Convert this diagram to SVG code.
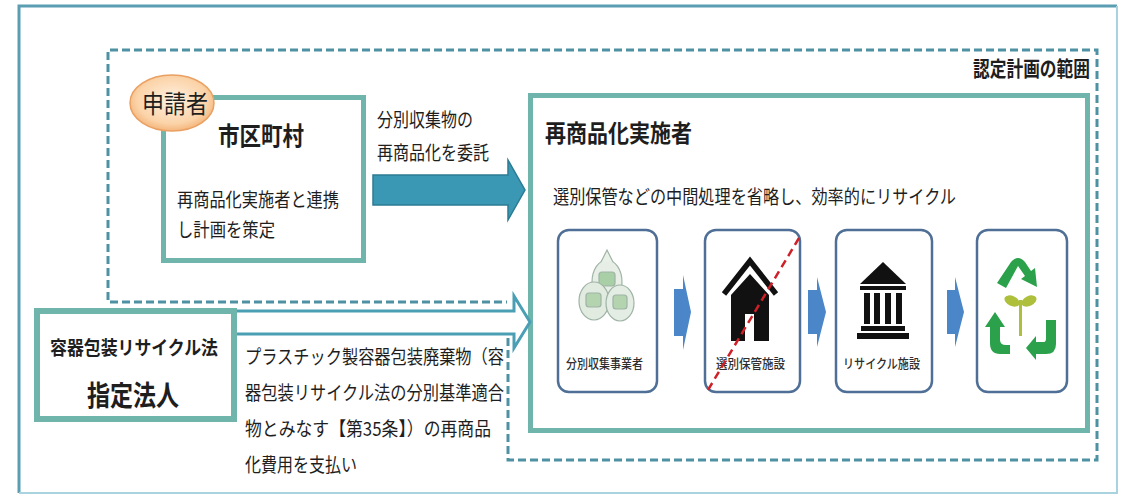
<svg xmlns="http://www.w3.org/2000/svg" width="1122" height="494" viewBox="0 0 1122 494">
  <defs>
    <style>
      .jp { font-family: "Noto Sans CJK JP", "Noto Sans CJK SC", sans-serif; fill: #1e1e1e; }
      .b { font-weight: bold; }
      .box { fill: #ffffff; stroke: #70b5ab; stroke-width: 5; }
      .step { fill: #ffffff; stroke: #4f6f96; stroke-width: 2.5; }
      .chev { fill: #4a86c8; }
      .small { font-family: "Noto Sans CJK JP", sans-serif; fill: #2e2e2e; font-size: 13px; font-weight: 500; }
    </style>
    <radialGradient id="badge" cx="50%" cy="45%" r="60%">
      <stop offset="0" stop-color="#fff1e2"/>
      <stop offset="0.7" stop-color="#fbd3a8"/>
      <stop offset="1" stop-color="#f2aa6a"/>
    </radialGradient>
  </defs>

  <rect width="1122" height="494" fill="#ffffff"/>

  <!-- outer frame -->
  <g id="frame">
    <path d="M1117 6 H19 V493" fill="none" stroke="#5b9db2" stroke-width="3"/>
    <path d="M1117 6 V493 H19" fill="none" stroke="#a8d3df" stroke-width="2"/>
  </g>

  <!-- scope of the approved plan -->
  <g id="scope">
    <path d="M508 338 V460 H1097 V50 H108 V302 H507" fill="none" stroke="#4e91a3" stroke-width="3" stroke-dasharray="8 4"/>
    <text class="jp b" x="973" y="76" font-size="21" textLength="117" lengthAdjust="spacingAndGlyphs">認定計画の範囲</text>
  </g>

  <!-- municipality (applicant) -->
  <g id="municipality">
    <rect class="box" x="163.5" y="97.5" width="200" height="163"/>
    <text class="jp b" x="218" y="145" font-size="25" textLength="86" lengthAdjust="spacingAndGlyphs">市区町村</text>
    <text class="jp" x="177" y="207" font-size="19" textLength="162" lengthAdjust="spacingAndGlyphs">再商品化実施者と連携</text>
    <text class="jp" x="177" y="237" font-size="19" textLength="98" lengthAdjust="spacingAndGlyphs">し計画を策定</text>
  </g>

  <g id="applicant">
    <ellipse cx="172" cy="103" rx="42" ry="28" fill="url(#badge)" stroke="#e9a062" stroke-width="1.5"/>
    <text class="jp" x="142" y="113" font-size="25" textLength="66" lengthAdjust="spacingAndGlyphs">申請者</text>
  </g>

  <!-- designated corporation -->
  <g id="designated">
    <rect x="37" y="311" width="197" height="108" fill="#ffffff" stroke="#70b5ab" stroke-width="6"/>
    <text class="jp b" x="50" y="355" font-size="19" textLength="168" lengthAdjust="spacingAndGlyphs">容器包装リサイクル法</text>
    <text class="jp b" x="87" y="406" font-size="28" textLength="92" lengthAdjust="spacingAndGlyphs">指定法人</text>
  </g>

  <!-- recycler -->
  <g id="recycler">
    <rect class="box" x="530.5" y="95.5" width="557" height="335"/>
    <text class="jp b" x="545" y="142" font-size="24" textLength="147" lengthAdjust="spacingAndGlyphs">再商品化実施者</text>
    <text class="jp" x="553" y="204" font-size="19" textLength="403" lengthAdjust="spacingAndGlyphs">選別保管などの中間処理を省略し、効率的にリサイクル</text>
  </g>

  <!-- step 1: separate collection -->
  <g id="step-collection">
    <rect class="step" x="558" y="230" width="99" height="162" rx="11"/>
    <g stroke="#9fb3a6" stroke-width="1.2">
      <ellipse cx="607" cy="282" rx="15" ry="22" fill="#e6eee6"/>
      <path d="M601 262 L607 250 L613 262" fill="#e9f0e8"/>
      <rect x="599" y="272" width="16" height="14" rx="3" fill="#a9cfa6"/>
      <ellipse cx="594" cy="301" rx="15" ry="19" fill="#e1ebe0"/>
      <rect x="586" y="293" width="15" height="14" rx="3" fill="#b3d4ae"/>
      <ellipse cx="620" cy="303" rx="14" ry="18" fill="#e4ede3"/>
      <rect x="613" y="295" width="14" height="14" rx="3" fill="#b3d4ae"/>
    </g>
    <text class="small" x="566" y="368" textLength="77" lengthAdjust="spacingAndGlyphs">分別収集事業者</text>
  </g>

  <!-- step 2: sorting storage (skipped) -->
  <g id="step-storage">
    <rect class="step" x="705" y="230" width="95" height="162" rx="11"/>
    <path d="M724 294 L750 261 L776 294" fill="none" stroke="#111" stroke-width="5.5"/>
    <path d="M731 295 L750 274 L769 295 V341 H754 V314 H745 V341 H731 Z" fill="#111"/>
    <text class="small" x="716" y="368" textLength="69" lengthAdjust="spacingAndGlyphs">選別保管施設</text>
    <line x1="799" y1="238" x2="708" y2="390" stroke="#cf2027" stroke-width="2.5" stroke-dasharray="8 5"/>
  </g>

  <!-- step 3: recycling facility -->
  <g id="step-facility">
    <rect class="step" x="836" y="230" width="96" height="162" rx="11"/>
    <g fill="#111">
      <path d="M860 284 L883 262 L906 284 Z"/>
      <rect x="860" y="286" width="46" height="4"/>
      <rect x="864" y="293" width="6" height="31"/>
      <rect x="874" y="293" width="6" height="31"/>
      <rect x="885" y="293" width="6" height="31"/>
      <rect x="896" y="293" width="6" height="31"/>
      <rect x="861" y="326" width="44" height="5"/>
      <rect x="857" y="333" width="52" height="6"/>
    </g>
    <text class="small" x="843" y="368" textLength="77" lengthAdjust="spacingAndGlyphs">リサイクル施設</text>
  </g>

  <!-- step 4: recycled -->
  <g id="step-recycled">
    <rect class="step" x="977" y="230" width="90" height="162" rx="11"/>
    <g fill="#2aa14a">
      <path d="M997 283 L1011 262 Q1018 254 1025 262 L1031 271 L1035 268 L1037 287 L1021 279 L1025 276 L1018 266 L1006 288 Z"/>
      <path d="M995 312 L1005 327 L1000 327 L1000 340 Q1000 345 1006 345 L1010 345 L1010 354 L1000 354 Q990 354 990 343 L990 327 L985 327 Z"/>
      <path d="M1046 320 L1056 320 L1056 344 Q1056 354 1046 354 L1036 354 L1036 360 L1026 348 L1036 336 L1036 342 L1044 342 Q1046 342 1046 338 Z"/>
    </g>
    <g fill="#aebf3c">
      <rect x="1019" y="300" width="3" height="36"/>
      <ellipse cx="1012" cy="301" rx="8" ry="5" transform="rotate(25 1012 301)"/>
      <ellipse cx="1029" cy="301" rx="8" ry="5" transform="rotate(-25 1029 301)"/>
    </g>
  </g>

  <!-- connectors -->
  <g id="connectors">
    <path d="M373 175 H508 V160 L525 190 L508 220 V205 H373 Z" fill="#3a98b4" stroke="#2b7b93" stroke-width="1.5"/>
    <text class="jp" x="377" y="127" font-size="19" textLength="96" lengthAdjust="spacingAndGlyphs">分別収集物の</text>
    <text class="jp" x="377" y="160" font-size="19" textLength="112" lengthAdjust="spacingAndGlyphs">再商品化を委託</text>

    <path d="M237 311 H514 V296 L530 322 L514 348 V334 H237" fill="#ffffff" stroke="#4a9fb4" stroke-width="3"/>
    <text class="jp" x="245" y="364" font-size="19" textLength="259" lengthAdjust="spacingAndGlyphs">プラスチック製容器包装廃棄物（容</text>
    <text class="jp" x="245" y="400" font-size="19" textLength="259" lengthAdjust="spacingAndGlyphs">器包装リサイクル法の分別基準適合</text>
    <text class="jp" x="245" y="436" font-size="19" textLength="246" lengthAdjust="spacingAndGlyphs">物とみなす【第35条】）の再商品</text>
    <text class="jp" x="245" y="472" font-size="19" textLength="112" lengthAdjust="spacingAndGlyphs">化費用を支払い</text>

    <path class="chev" d="M674 289 H683 V275 L691 312 L683 350 V336 H674 Z"/>
    <path class="chev" d="M808 290 H817 V277 L826 312 L817 347 V334 H808 Z"/>
    <path class="chev" d="M947 290 H955 V277 L964 312 L955 347 V334 H947 Z"/>
  </g>
</svg>
